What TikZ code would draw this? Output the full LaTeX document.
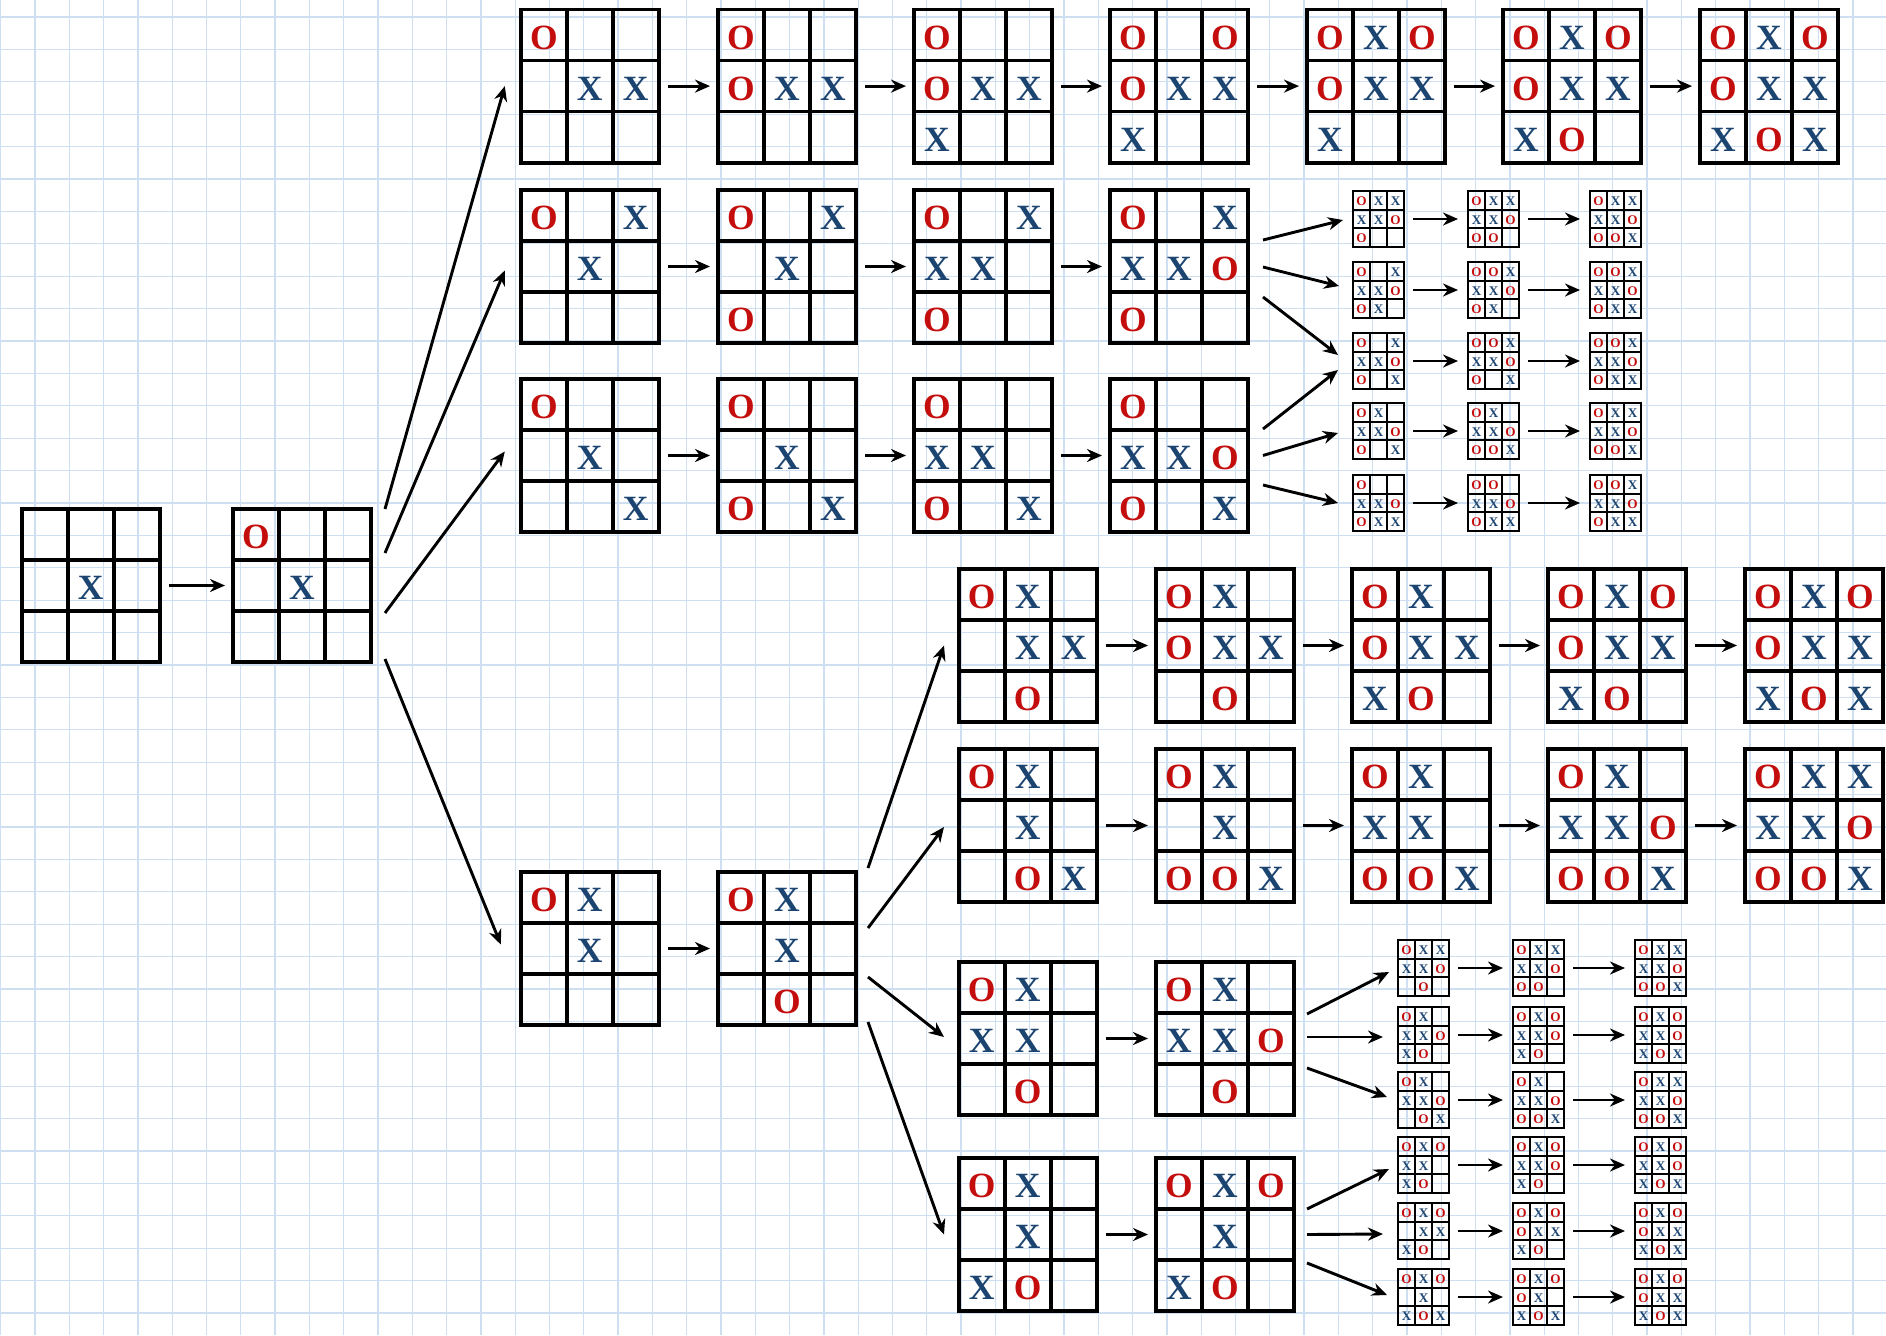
\documentclass[tikz,border=0pt]{standalone}
\usepackage{fontspec}
\setmainfont{Liberation Serif}
\usetikzlibrary{arrows.meta}
\definecolor{xblue}{RGB}{28,68,112}
\definecolor{ored}{RGB}{196,14,14}
\definecolor{gridblue}{RGB}{206,223,241}

\tikzset{
  boardframe/.style={draw=black, anchor=north west, inner sep=0pt, outer sep=0pt},
  arr/.style={-{Stealth[length=15pt,width=13pt]}, line width=2.9pt, black},
  chain/.style={arr, shorten <=9pt, shorten >=8pt},
  minichain/.style={arr, shorten <=9pt, shorten >=10pt},
  gridline/.style={gridblue, line width=1.3pt}
}

% #1 name, #2 x, #3 y, #4 width, #5 height, #6 line width, #7 font size, #8 cells
\newcommand\ttboard[8]{%
  \node[boardframe, line width=#6, minimum width=#4pt, minimum height=#5pt] (#1) at (#2,#3) {};
  \draw[line width=#6]
    (#2+#4/3,#3) -- (#2+#4/3,#3+#5)
    (#2+2*#4/3,#3) -- (#2+2*#4/3,#3+#5)
    (#2,#3+#5/3) -- (#2+#4,#3+#5/3)
    (#2,#3+2*#5/3) -- (#2+#4,#3+2*#5/3);
  \foreach \c [count=\i from 0] in {#8} {
    \pgfmathsetmacro\cx{#2+(mod(\i,3)+0.5)*#4/3}
    \pgfmathsetmacro\cy{#3+(int(\i/3)+0.5)*#5/3+0.016*#5}
    \if\c X\node[font=\fontsize{#7}{#7}\selectfont\bfseries, text=xblue, inner sep=0pt] at (\cx,\cy) {X};\fi
    \if\c O\node[font=\fontsize{#7}{#7}\selectfont\bfseries, text=ored, inner sep=0pt] at (\cx,\cy) {O};\fi
  }%
}
\newcommand\bigboard[4]{\ttboard{#1}{#2}{#3}{138}{153}{3.8pt}{35.5}{#4}}
\newcommand\miniboard[4]{\ttboard{#1}{#2}{#3}{51}{56}{2.2pt}{13.2}{#4}}

\begin{document}
\begin{tikzpicture}[x=1pt, y=-1pt]
  % squared paper
  \fill[white] (0,0) rectangle (1886,1335);
  \useasboundingbox (0,0) rectangle (1886,1335);
  \begin{scope}
    \clip (0,0) rectangle (1886,1335);
    \foreach \k in {0,...,55} \draw[gridline] (0.7+34.3*\k,0) -- (0.7+34.3*\k,1335);
    \foreach \k in {0,...,41} \draw[gridline] (0,17+32.4*\k) -- (1886,17+32.4*\k);
  \end{scope}

  % opening moves
  \bigboard{b0}{21.6}{509}{-,-,-,-,X,-,-,-,-}
  \bigboard{b1}{233}{509}{O,-,-,-,X,-,-,-,-}

  % first line
  \bigboard{T1}{520.8}{9.6}{O,-,-,-,X,X,-,-,-}
  \bigboard{T2}{718}{9.6}{O,-,-,O,X,X,-,-,-}
  \bigboard{T3}{914}{9.6}{O,-,-,O,X,X,X,-,-}
  \bigboard{T4}{1110}{9.6}{O,-,O,O,X,X,X,-,-}
  \bigboard{T5}{1307}{9.6}{O,X,O,O,X,X,X,-,-}
  \bigboard{T6}{1503}{9.6}{O,X,O,O,X,X,X,O,-}
  \bigboard{T7}{1700}{9.6}{O,X,O,O,X,X,X,O,X}

  % second line
  \bigboard{M1}{520.8}{190}{O,-,X,-,X,-,-,-,-}
  \bigboard{M2}{718}{190}{O,-,X,-,X,-,O,-,-}
  \bigboard{M3}{914}{190}{O,-,X,X,X,-,O,-,-}
  \bigboard{M4}{1110}{190}{O,-,X,X,X,O,O,-,-}

  % third line
  \bigboard{N1}{520.8}{379}{O,-,-,-,X,-,-,-,X}
  \bigboard{N2}{718}{379}{O,-,-,-,X,-,O,-,X}
  \bigboard{N3}{914}{379}{O,-,-,X,X,-,O,-,X}
  \bigboard{N4}{1110}{379}{O,-,-,X,X,O,O,-,X}

  % small endgames, upper group
  \miniboard{S1a}{1353}{191}{O,X,X,X,X,O,O,-,-}
  \miniboard{S1b}{1468}{191}{O,X,X,X,X,O,O,O,-}
  \miniboard{S1c}{1590}{191}{O,X,X,X,X,O,O,O,X}
  \miniboard{S2a}{1353}{262}{O,-,X,X,X,O,O,X,-}
  \miniboard{S2b}{1468}{262}{O,O,X,X,X,O,O,X,-}
  \miniboard{S2c}{1590}{262}{O,O,X,X,X,O,O,X,X}
  \miniboard{S3a}{1353}{333}{O,-,X,X,X,O,O,-,X}
  \miniboard{S3b}{1468}{333}{O,O,X,X,X,O,O,-,X}
  \miniboard{S3c}{1590}{333}{O,O,X,X,X,O,O,X,X}
  \miniboard{S4a}{1353}{403}{O,X,-,X,X,O,O,-,X}
  \miniboard{S4b}{1468}{403}{O,X,-,X,X,O,O,O,X}
  \miniboard{S4c}{1590}{403}{O,X,X,X,X,O,O,O,X}
  \miniboard{S5a}{1353}{475}{O,-,-,X,X,O,O,X,X}
  \miniboard{S5b}{1468}{475}{O,O,-,X,X,O,O,X,X}
  \miniboard{S5c}{1590}{475}{O,O,X,X,X,O,O,X,X}

  % lower branch
  \bigboard{L0}{520.8}{872}{O,X,-,-,X,-,-,-,-}
  \bigboard{L1}{718}{872}{O,X,-,-,X,-,-,O,-}

  \bigboard{R1a}{958.6}{569}{O,X,-,-,X,X,-,O,-}
  \bigboard{R1b}{1156}{569}{O,X,-,O,X,X,-,O,-}
  \bigboard{R1c}{1352}{569}{O,X,-,O,X,X,X,O,-}
  \bigboard{R1d}{1548}{569}{O,X,O,O,X,X,X,O,-}
  \bigboard{R1e}{1745}{569}{O,X,O,O,X,X,X,O,X}

  \bigboard{R2a}{958.6}{749}{O,X,-,-,X,-,-,O,X}
  \bigboard{R2b}{1156}{749}{O,X,-,-,X,-,O,O,X}
  \bigboard{R2c}{1352}{749}{O,X,-,X,X,-,O,O,X}
  \bigboard{R2d}{1548}{749}{O,X,-,X,X,O,O,O,X}
  \bigboard{R2e}{1745}{749}{O,X,X,X,X,O,O,O,X}

  \bigboard{R3a}{958.6}{962}{O,X,-,X,X,-,-,O,-}
  \bigboard{R3b}{1156}{962}{O,X,-,X,X,O,-,O,-}

  \bigboard{R4a}{958.6}{1158}{O,X,-,-,X,-,X,O,-}
  \bigboard{R4b}{1156}{1158}{O,X,O,-,X,-,X,O,-}

  % small endgames, lower group
  \miniboard{P1a}{1398}{940}{O,X,X,X,X,O,-,O,-}
  \miniboard{P1b}{1513}{940}{O,X,X,X,X,O,O,O,-}
  \miniboard{P1c}{1635}{940}{O,X,X,X,X,O,O,O,X}
  \miniboard{P2a}{1398}{1007}{O,X,-,X,X,O,X,O,-}
  \miniboard{P2b}{1513}{1007}{O,X,O,X,X,O,X,O,-}
  \miniboard{P2c}{1635}{1007}{O,X,O,X,X,O,X,O,X}
  \miniboard{P3a}{1398}{1072}{O,X,-,X,X,O,-,O,X}
  \miniboard{P3b}{1513}{1072}{O,X,-,X,X,O,O,O,X}
  \miniboard{P3c}{1635}{1072}{O,X,X,X,X,O,O,O,X}
  \miniboard{P4a}{1398}{1137}{O,X,O,X,X,-,X,O,-}
  \miniboard{P4b}{1513}{1137}{O,X,O,X,X,O,X,O,-}
  \miniboard{P4c}{1635}{1137}{O,X,O,X,X,O,X,O,X}
  \miniboard{P5a}{1398}{1203}{O,X,O,-,X,X,X,O,-}
  \miniboard{P5b}{1513}{1203}{O,X,O,O,X,X,X,O,-}
  \miniboard{P5c}{1635}{1203}{O,X,O,O,X,X,X,O,X}
  \miniboard{P6a}{1398}{1269}{O,X,O,-,X,-,X,O,X}
  \miniboard{P6b}{1513}{1269}{O,X,O,O,X,-,X,O,X}
  \miniboard{P6c}{1635}{1269}{O,X,O,O,X,X,X,O,X}

  % straight moves
  \foreach \u/\v in {b0/b1, T1/T2, T2/T3, T3/T4, T4/T5, T5/T6, T6/T7,
                     M1/M2, M2/M3, M3/M4, N1/N2, N2/N3, N3/N4, L0/L1,
                     R1a/R1b, R1b/R1c, R1c/R1d, R1d/R1e,
                     R2a/R2b, R2b/R2c, R2c/R2d, R2d/R2e, R3a/R3b, R4a/R4b}
    \draw[chain] (\u) -- (\v);
  \foreach \r in {S1,S2,S3,S4,S5,P1,P2,P3,P4,P5,P6} {
    \draw[minichain] (\r a) -- (\r b);
    \draw[minichain] (\r b) -- (\r c);
  }

  % branching from the second board
  \draw[arr] ([shift={(14,0)}]b1.north east) -- ([shift={(-16,0)}]T1.west);
  \draw[arr] ([shift={(14,-32.5)}]b1.east) -- ([shift={(-16,4)}]M1.west);
  \draw[arr] ([shift={(14,27.5)}]b1.east) -- ([shift={(-16,-4)}]N1.west);
  \draw[arr] ([shift={(14,-3)}]b1.south east) -- ([shift={(-20,-4)}]L0.west);

  % branching in the lower line
  \draw[arr] ([shift={(12,-4)}]L1.north east) -- ([shift={(-14.6,0)}]R1a.west);
  \draw[arr] ([shift={(12,-20.5)}]L1.east) -- ([shift={(-14.6,1.5)}]R2a.west);
  \draw[arr] ([shift={(12,28.5)}]L1.east) -- ([shift={(-14.6,-1.5)}]R3a.west);
  \draw[arr] ([shift={(12,-3)}]L1.south east) -- ([shift={(-14.6,0)}]R4a.west);

  % branching into the upper small endgames
  \draw[arr] ([shift={(15,-26.5)}]M4.east) -- ([shift={(-10,1)}]S1a.west);
  \draw[arr] ([shift={(15,0.5)}]M4.east) -- ([shift={(-14,-4)}]S2a.west);
  \draw[arr] ([shift={(15,30.5)}]M4.east) -- ([shift={(-15,-6)}]S3a.west);
  \draw[arr] ([shift={(15,-26.5)}]N4.east) -- ([shift={(-15,9)}]S3a.west);
  \draw[arr] ([shift={(15,0)}]N4.east) -- ([shift={(-15,2)}]S4a.west);
  \draw[arr] ([shift={(15,29.5)}]N4.east) -- ([shift={(-15,0)}]S5a.west);

  % branching into the lower small endgames
  \draw[arr] ([shift={(13,-24.5)}]R3b.east) -- ([shift={(-9,4)}]P1a.west);
  \draw[arr] ([shift={(13,-1.5)}]R3b.east) -- ([shift={(-15,2)}]P2a.west);
  \draw[arr] ([shift={(13,29.5)}]R3b.east) -- ([shift={(-11,-3)}]P3a.west);
  \draw[arr] ([shift={(13,-25.5)}]R4b.east) -- ([shift={(-9,4)}]P4a.west);
  \draw[arr] ([shift={(13,0)}]R4b.east) -- ([shift={(-15,3)}]P5a.west);
  \draw[arr] ([shift={(13,28.5)}]R4b.east) -- ([shift={(-11,-2)}]P6a.west);
\end{tikzpicture}
\end{document}
